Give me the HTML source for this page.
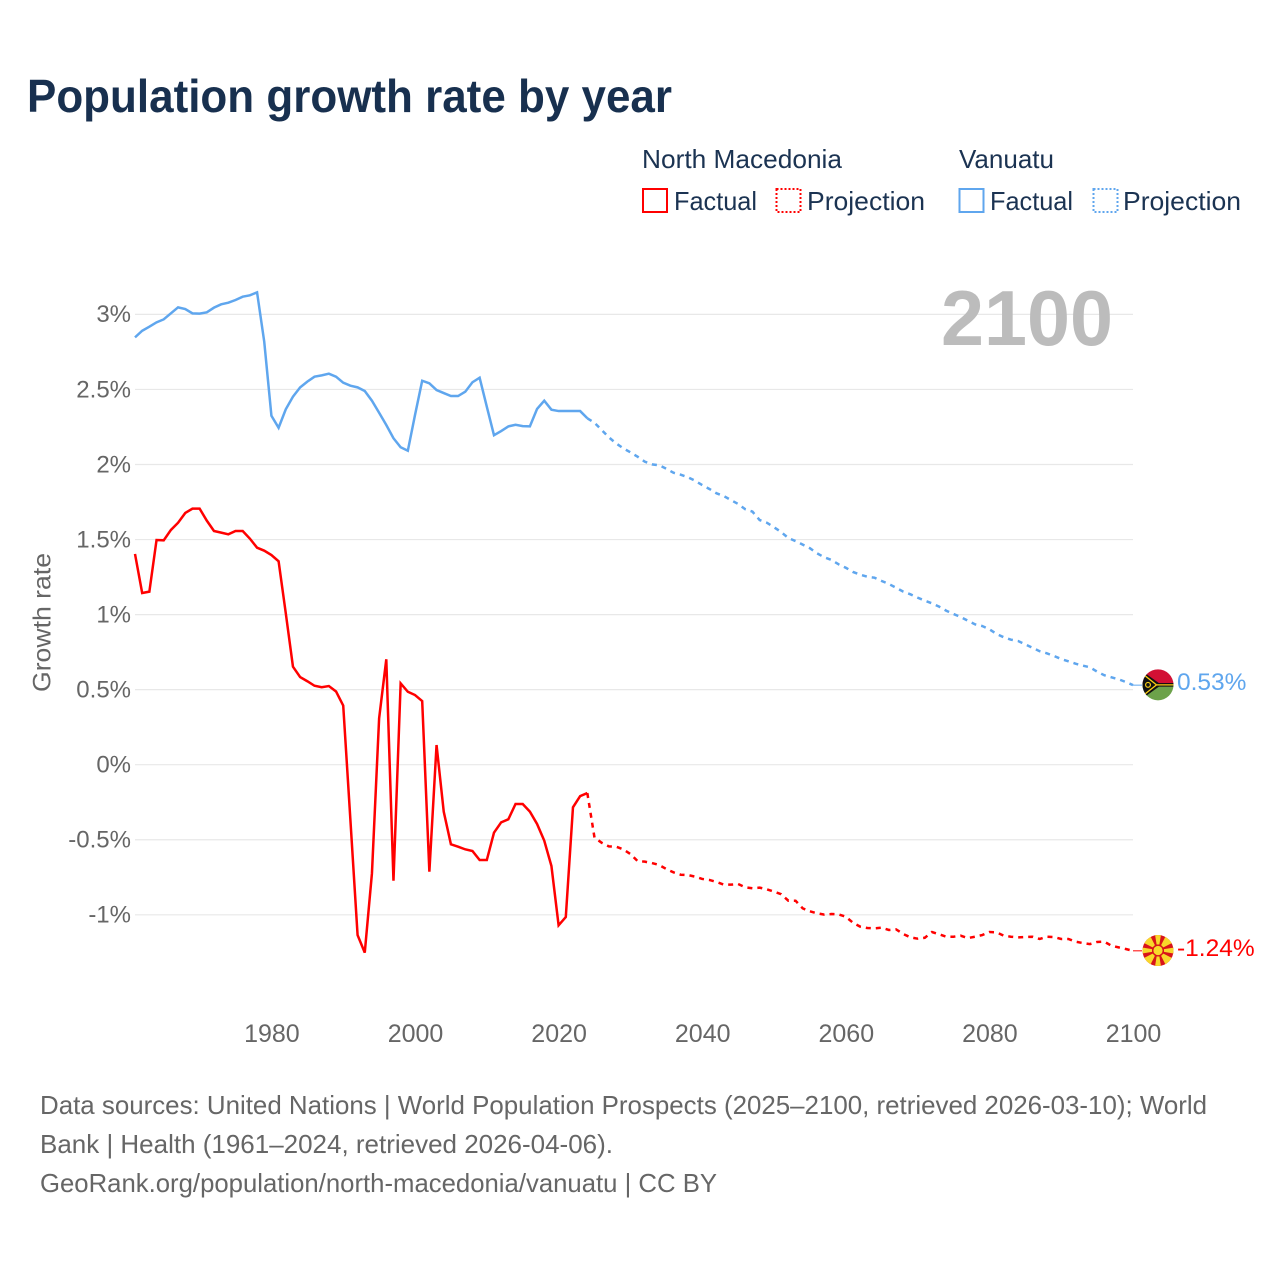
<!DOCTYPE html>
<html lang="en">
<head>
<meta charset="utf-8">
<title>Population growth rate by year</title>
<style>
html,body{margin:0;padding:0;background:#fff;}
svg{display:block;font-family:"Liberation Sans",sans-serif;}
</style>
</head>
<body>
<svg id="chart" xmlns="http://www.w3.org/2000/svg" width="1280" height="1280" viewBox="0 0 1280 1280">
  <defs>
    <clipPath id="flag-clip"><circle cx="0" cy="0" r="15.5"/></clipPath>
  </defs>
  <rect x="0" y="0" width="1280" height="1280" fill="#ffffff"/>

  <text x="27" y="112" font-size="46" font-weight="700" fill="#18304f" textLength="645" lengthAdjust="spacingAndGlyphs">Population growth rate by year</text>

  <g font-size="26" fill="#1b3352">
    <text x="642" y="168" textLength="200" lengthAdjust="spacingAndGlyphs">North Macedonia</text>
    <text x="959" y="168" textLength="95" lengthAdjust="spacingAndGlyphs">Vanuatu</text>
    <g>
      <rect x="643" y="189" width="24" height="23" fill="none" stroke="#ff0000" stroke-width="2"/>
      <text x="674" y="210" textLength="83" lengthAdjust="spacingAndGlyphs">Factual</text>
    </g>
    <g>
      <rect x="776.5" y="189" width="24" height="23" fill="none" stroke="#ff0000" stroke-width="2" stroke-dasharray="2 2"/>
      <text x="807" y="210" textLength="118" lengthAdjust="spacingAndGlyphs">Projection</text>
    </g>
    <g>
      <rect x="959.5" y="189" width="24" height="23" fill="none" stroke="#5fa6ee" stroke-width="2"/>
      <text x="990" y="210" textLength="83" lengthAdjust="spacingAndGlyphs">Factual</text>
    </g>
    <g>
      <rect x="1093.5" y="189" width="24" height="23" fill="none" stroke="#5fa6ee" stroke-width="2" stroke-dasharray="2 2"/>
      <text x="1123" y="210" textLength="118" lengthAdjust="spacingAndGlyphs">Projection</text>
    </g>
  </g>

  <g id="grid"></g>

  <text x="941" y="345" font-size="78" font-weight="700" fill="#bcbcbc" textLength="172" lengthAdjust="spacingAndGlyphs">2100</text>

  <g id="y-axis"></g>
  <g id="x-axis"></g>
  <text transform="translate(50.5,622.5) rotate(-90)" text-anchor="middle" font-size="25" fill="#666666" textLength="139" lengthAdjust="spacingAndGlyphs">Growth rate</text>

  <g id="series"></g>

  <g id="flag-vanuatu">
    <g clip-path="url(#flag-clip)">
      <rect x="-16" y="-16" width="32" height="16" fill="#d21034"/>
      <rect x="-16" y="0" width="32" height="16" fill="#6ca24a"/>
      <rect x="-16" y="-1.8" width="32" height="3.6" fill="#111111"/>
      <polygon points="-16,-14 2,-1 2,1 -16,14" fill="#111111"/>
      <polyline points="-16,-11.5 -1.5,0 16,0 -1.5,0 -16,11.5" fill="none" stroke="#fdce12" stroke-width="1.3"/>
      <circle cx="-10" cy="0" r="2.4" fill="none" stroke="#fdce12" stroke-width="1.2"/>
    </g>
  </g>
  <g id="flag-macedonia">
    <g clip-path="url(#flag-clip)">
      <rect x="-16" y="-16" width="32" height="32" fill="#d8141a"/>
      <polygon points="-1.4,-6 -3,-16 3,-16 1.4,-6" fill="#f8d82a"/>
      <polygon points="-1.6,-6 -5.2,-17 5.2,-17 1.6,-6" fill="#f8d82a" transform="rotate(45)"/>
      <polygon points="-1.4,-6 -3,-16 3,-16 1.4,-6" fill="#f8d82a" transform="rotate(90)"/>
      <polygon points="-1.6,-6 -5.2,-17 5.2,-17 1.6,-6" fill="#f8d82a" transform="rotate(135)"/>
      <polygon points="-1.4,-6 -3,-16 3,-16 1.4,-6" fill="#f8d82a" transform="rotate(180)"/>
      <polygon points="-1.6,-6 -5.2,-17 5.2,-17 1.6,-6" fill="#f8d82a" transform="rotate(225)"/>
      <polygon points="-1.4,-6 -3,-16 3,-16 1.4,-6" fill="#f8d82a" transform="rotate(270)"/>
      <polygon points="-1.6,-6 -5.2,-17 5.2,-17 1.6,-6" fill="#f8d82a" transform="rotate(315)"/>
      <circle cx="0" cy="0" r="4.6" fill="#f8d82a"/>
    </g>
  </g>

  <g font-size="26" fill="#666666">
    <text x="40" y="1114" textLength="1167" lengthAdjust="spacingAndGlyphs">Data sources: United Nations | World Population Prospects (2025–2100, retrieved 2026-03-10); World</text>
    <text x="40" y="1153" textLength="573" lengthAdjust="spacingAndGlyphs">Bank | Health (1961–2024, retrieved 2026-04-06).</text>
    <text x="40" y="1192" textLength="677" lengthAdjust="spacingAndGlyphs">GeoRank.org/population/north-macedonia/vanuatu | CC BY</text>
  </g>
</svg>

<script>
const yTickValues = [3, 2.5, 2, 1.5, 1, 0.5, 0, -0.5, -1];
const yTickLabels = ['3%', '2.5%', '2%', '1.5%', '1%', '0.5%', '0%', '-0.5%', '-1%'];
const xTickYears = [1980, 2000, 2020, 2040, 2060, 2080, 2100];
const factualStartYear = 1961;
const projectionStartYear = 2025;

// Vanuatu growth rate, 1961-2024
const vanuatuFactual = [
  2.847, 2.891, 2.918, 2.947, 2.967, 3.007, 3.047, 3.036, 3.007, 3.005,
  3.014, 3.045, 3.067, 3.078, 3.096, 3.118, 3.127, 3.147, 2.818, 2.325,
  2.245, 2.368, 2.452, 2.514, 2.552, 2.585, 2.594, 2.605, 2.585, 2.545,
  2.525, 2.514, 2.490, 2.425, 2.345, 2.263, 2.175, 2.115, 2.092, 2.330,
  2.558, 2.541, 2.496, 2.476, 2.456, 2.456, 2.485, 2.548, 2.578, 2.385,
  2.195, 2.223, 2.254, 2.265, 2.256, 2.254, 2.370, 2.425, 2.365, 2.356,
  2.356, 2.356, 2.356, 2.308
];

// Vanuatu growth rate, 2025-2100
const vanuatuProjection = [
  2.278, 2.230, 2.181, 2.141, 2.108, 2.081, 2.052, 2.019, 2.001, 1.995,
  1.972, 1.945, 1.932, 1.915, 1.892, 1.863, 1.837, 1.808, 1.790, 1.763,
  1.737, 1.702, 1.686, 1.630, 1.612, 1.582, 1.550, 1.510, 1.490, 1.466,
  1.442, 1.408, 1.382, 1.364, 1.335, 1.312, 1.284, 1.266, 1.252, 1.246,
  1.224, 1.204, 1.179, 1.153, 1.135, 1.113, 1.093, 1.075, 1.053, 1.026,
  1.004, 0.984, 0.959, 0.935, 0.924, 0.902, 0.871, 0.849, 0.833, 0.824,
  0.802, 0.779, 0.756, 0.742, 0.724, 0.704, 0.689, 0.673, 0.660, 0.649,
  0.620, 0.596, 0.582, 0.569, 0.551, 0.53
];

// North Macedonia growth rate, 1961-2024
const macedoniaFactual = [
  1.404, 1.144, 1.153, 1.497, 1.495, 1.564, 1.612, 1.677, 1.706, 1.706,
  1.626, 1.557, 1.546, 1.535, 1.557, 1.557, 1.506, 1.446, 1.426, 1.397,
  1.355, 1.009, 0.653, 0.584, 0.556, 0.526, 0.516, 0.524, 0.488, 0.394,
  -0.368, -1.135, -1.252, -0.724, 0.309, 0.702, -0.773, 0.542, 0.486, 0.464,
  0.424, -0.713, 0.131, -0.313, -0.530, -0.546, -0.564, -0.575, -0.635, -0.635,
  -0.453, -0.384, -0.364, -0.262, -0.262, -0.313, -0.395, -0.506, -0.675, -1.070,
  -1.015, -0.284, -0.209, -0.189
];

// North Macedonia growth rate, 2025-2100
const macedoniaProjection = [
  -0.486, -0.520, -0.544, -0.546, -0.564, -0.595, -0.642, -0.646, -0.655, -0.668,
  -0.695, -0.717, -0.733, -0.735, -0.746, -0.761, -0.768, -0.781, -0.799, -0.799,
  -0.795, -0.817, -0.823, -0.819, -0.830, -0.846, -0.863, -0.906, -0.906, -0.957,
  -0.977, -0.990, -0.999, -0.995, -0.997, -1.013, -1.053, -1.079, -1.088, -1.090,
  -1.086, -1.101, -1.097, -1.128, -1.150, -1.159, -1.153, -1.115, -1.130, -1.146,
  -1.146, -1.139, -1.155, -1.146, -1.135, -1.115, -1.117, -1.139, -1.146, -1.150,
  -1.148, -1.146, -1.161, -1.146, -1.148, -1.161, -1.161, -1.179, -1.188, -1.195,
  -1.181, -1.179, -1.206, -1.217, -1.228, -1.24
];

const SVG_NS = 'http://www.w3.org/2000/svg';
const X_LEFT = 135, X_RIGHT = 1133, YEAR_MIN = 1961, YEAR_MAX = 2100;
const Y_ZERO = 764.7, Y_PER_UNIT = 150.1;
function xScale(year) {
  return X_LEFT + (year - YEAR_MIN) * (X_RIGHT - X_LEFT) / (YEAR_MAX - YEAR_MIN);
}
function yScale(value) {
  return Y_ZERO - value * Y_PER_UNIT;
}
function linePath(startYear, values) {
  return values.map(function (v, i) {
    return (i ? 'L' : 'M') + xScale(startYear + i).toFixed(2) + ' ' + yScale(v).toFixed(2);
  }).join(' ');
}
function formatRate(v) {
  return v.toFixed(2) + '%';
}

const gridGroup = document.getElementById('grid');
const yAxisGroup = document.getElementById('y-axis');
const xAxisGroup = document.getElementById('x-axis');
const seriesGroup = document.getElementById('series');

yTickValues.forEach(function (value, i) {
  const line = document.createElementNS(SVG_NS, 'line');
  
  
  line.setAttribute('x1', X_LEFT);
  line.setAttribute('x2', X_RIGHT);
  line.setAttribute('y1', yScale(value));
  line.setAttribute('y2', yScale(value));
  line.setAttribute('stroke', '#e8e8e8');
  line.setAttribute('stroke-width', '1.2');
  gridGroup.appendChild(line);

  const label = document.createElementNS(SVG_NS, 'text');
  
  
  label.setAttribute('x', 131);
  label.setAttribute('y', yScale(value) + 7.8);
  label.setAttribute('text-anchor', 'end');
  label.setAttribute('font-size', '24');
  label.setAttribute('fill', '#666666');
  label.textContent = yTickLabels[i];
  yAxisGroup.appendChild(label);
});

xTickYears.forEach(function (year) {
  const label = document.createElementNS(SVG_NS, 'text');
  
  
  label.setAttribute('x', xScale(year) + 0.5);
  label.setAttribute('y', 1042);
  label.setAttribute('text-anchor', 'middle');
  label.setAttribute('font-size', '25');
  label.setAttribute('fill', '#666666');
  label.textContent = String(year);
  xAxisGroup.appendChild(label);
});

function drawSeries(key, color, factual, projection, flagId) {
  const solid = document.createElementNS(SVG_NS, 'path');
  
  
  solid.setAttribute('d', linePath(factualStartYear, factual));
  solid.setAttribute('fill', 'none');
  solid.setAttribute('stroke', color);
  solid.setAttribute('stroke-width', '2.5');
  solid.setAttribute('stroke-linejoin', 'miter');
  seriesGroup.appendChild(solid);

  const joined = [factual[factual.length - 1]].concat(projection);
  const dashed = document.createElementNS(SVG_NS, 'path');
  
  
  dashed.setAttribute('d', linePath(projectionStartYear - 1, joined));
  dashed.setAttribute('fill', 'none');
  dashed.setAttribute('stroke', color);
  dashed.setAttribute('stroke-width', '2.5');
  dashed.setAttribute('stroke-dasharray', '5 5');
  seriesGroup.appendChild(dashed);

  const last = projection[projection.length - 1];
  const yEnd = yScale(last);

  const connector = document.createElementNS(SVG_NS, 'line');
  
  
  connector.setAttribute('x1', X_RIGHT);
  connector.setAttribute('x2', X_RIGHT + 9);
  connector.setAttribute('y1', yEnd);
  connector.setAttribute('y2', yEnd);
  connector.setAttribute('stroke', color);
  connector.setAttribute('stroke-width', '1');
  seriesGroup.appendChild(connector);

  document.getElementById(flagId).setAttribute('transform', 'translate(1158,' + (yEnd - 0.3) + ')');

  const endLabel = document.createElementNS(SVG_NS, 'text');
  
  
  endLabel.setAttribute('x', 1177);
  endLabel.setAttribute('y', yEnd + 5);
  endLabel.setAttribute('font-size', '24.5');
  endLabel.setAttribute('fill', color);
  endLabel.textContent = formatRate(last);
  seriesGroup.appendChild(endLabel);
}

drawSeries('vanuatu', '#5fa6ee', vanuatuFactual, vanuatuProjection, 'flag-vanuatu');
drawSeries('north-macedonia', '#ff0000', macedoniaFactual, macedoniaProjection, 'flag-macedonia');
</script>
</body>
</html>
